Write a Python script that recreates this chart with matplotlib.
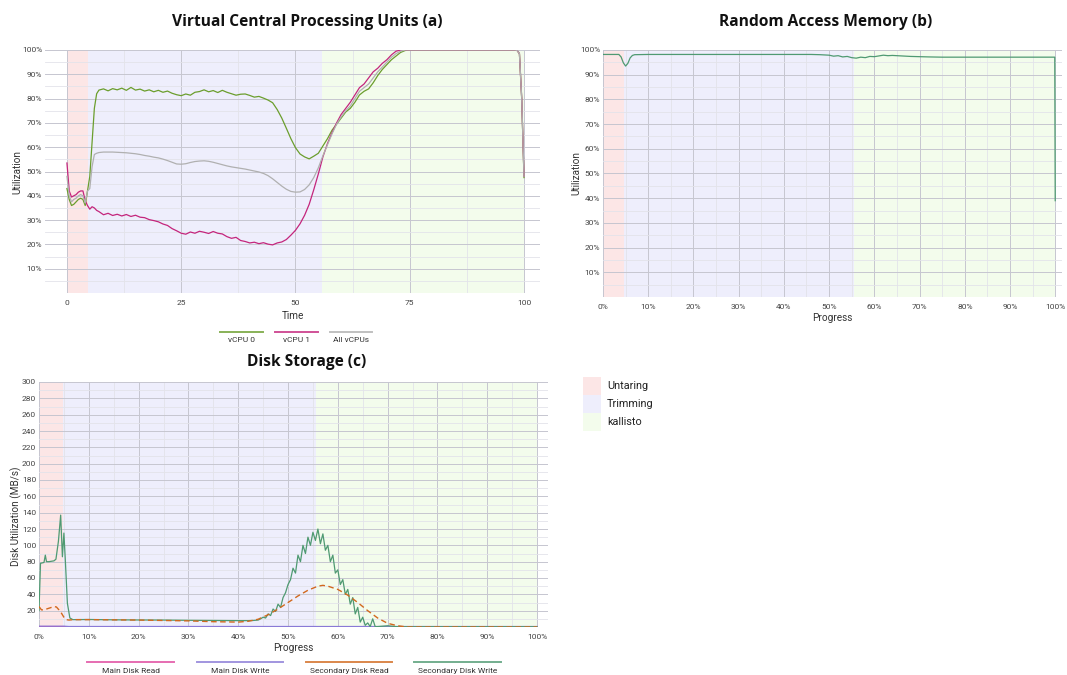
import matplotlib.pyplot as plt
from matplotlib.lines import Line2D
from matplotlib.patches import Rectangle
from matplotlib.ticker import FixedLocator, FuncFormatter

plt.rcParams['font.family'] = ['Roboto', 'DejaVu Sans']

# %% data
phase_names = ['Untaring', 'Trimming', 'kallisto']
phase_colors = ['#fce6e6', '#eeeefc', '#f3fcec']
cpu_phase_edges = [0, 4.6, 55.7, 100]
ram_phase_edges = [0, 4.6, 55.6, 100]
disk_phase_edges = [0, 4.8, 55.7, 100]

cpu_time = [0, 0.5, 1, 1.5, 2, 2.5, 3, 3.5, 4, 4.5, 5, 5.5, 6, 6.5,
            7, 8, 9, 10, 11, 12, 13, 14, 15, 16, 17, 18, 19, 20,
            21, 22, 23, 24, 25, 26, 27, 28, 29, 30, 31, 32, 33, 34, 35,
            36, 37, 38, 39, 40, 41, 42, 43, 44, 45, 46, 47, 48, 49, 50,
            51, 52, 53, 54, 55, 56, 57, 58, 59, 60, 61, 62, 63, 64, 65,
            66, 67, 68, 69, 70, 71, 72, 73, 74, 75,
            80, 85, 90, 95, 98, 98.5, 99, 99.5, 100]
vcpu0 = [43, 38.5, 36, 36.5, 37.5, 38.5, 39, 38.5, 36, 42, 48, 62, 76, 82,
         83.5, 84.0, 83.2, 84.1, 83.6, 84.3, 83.4, 84.6, 83.5, 83.9, 83.1, 83.6, 82.8, 83.4,
         82.6, 83.1, 82.2, 81.6, 81.2, 81.9, 81.4, 82.6, 82.9, 83.6, 82.8, 83.3, 82.5, 83.4, 82.6,
         82.0, 81.4, 81.8, 81.9, 81.3, 80.6, 80.9, 80.2, 79.4, 78.3, 75.5, 72.0, 67.8, 63.5, 59.8,
         57.2, 56.0, 55.2, 56.3, 57.5, 60.5, 63.5, 67.0, 69.5, 72.0, 74.5, 76.0, 78.5, 81.5, 83.0,
         84.0, 86.5, 89.5, 92.0, 94.0, 96.0, 97.5, 99.0, 99.8, 100,
         100, 100, 100, 100, 100, 99.8, 98.5, 80, 47.5]
vcpu1 = [53.5, 42, 39.5, 40, 40.5, 41.5, 42, 42, 38, 36, 34.5, 35.5, 35, 34,
         33.5, 32.2, 32.8, 31.9, 32.4, 31.7, 32.3, 31.5, 32.0, 31.2, 31.0, 30.2, 29.8, 29.3,
         28.4, 27.8, 26.5, 25.6, 24.6, 24.2, 25.1, 24.6, 25.4, 25.0, 24.5, 25.3, 24.6, 24.3, 23.2,
         22.5, 22.9, 21.6, 21.2, 20.6, 20.9, 20.3, 20.7, 20.1, 19.8, 20.6, 21.0, 22.0, 23.8, 25.8,
         28.5, 32.0, 36.5, 42.5, 49.0, 56.0, 61.5, 66.0, 70.0, 73.5, 76.0, 78.5, 81.5, 84.5, 86.0,
         88.5, 91.0, 92.5, 94.5, 96.0, 98.0, 99.5, 100, 100, 100,
         100, 100, 100, 100, 100, 99.8, 98.5, 80, 48]
all_vcpus = [48, 40, 37.5, 38.5, 39, 40, 40.5, 40, 37, 42, 43, 52, 57, 57.5,
             57.8, 58.0, 58.0, 58.0, 57.9, 57.8, 57.7, 57.5, 57.3, 57.0, 56.6, 56.3, 55.9, 55.6,
             55.1, 54.5, 53.8, 53.1, 53.0, 53.2, 53.7, 54.1, 54.3, 54.4, 54.2, 53.8, 53.3, 52.8, 52.3,
             51.9, 51.6, 51.3, 51.0, 50.6, 50.2, 49.8, 49.2, 48.3, 47.0, 45.5, 44.0, 42.7, 41.8, 41.5,
             41.6, 42.6, 44.5, 47.5, 51.5, 56.5, 61.0, 65.5, 69.5, 72.5, 75.0, 77.0, 80.0, 83.0, 84.5,
             86.0, 88.5, 91.0, 93.0, 95.0, 97.0, 98.5, 99.5, 100, 100,
             100, 100, 100, 100, 100, 99.8, 98.5, 80, 48]

ram_progress = [0, 3.5, 4.0, 4.5, 5.0, 5.5, 6.0, 6.5, 7.0, 10, 20, 30, 40, 46, 48,
                50, 51, 52, 53, 54, 55, 56, 57, 58, 59, 60, 61, 62, 63, 64, 66,
                68, 70, 72, 75, 80, 90, 99.9, 100]
ram_util = [98.2, 98.2, 97.2, 94.8, 93.5, 94.6, 96.8, 97.8, 98.1, 98.2, 98.2, 98.2, 98.2, 98.2, 98.1,
            97.9, 97.5, 97.7, 97.2, 97.4, 96.9, 96.7, 97.1, 96.9, 97.4, 97.3, 97.6, 97.9, 97.7, 97.8, 97.6,
            97.4, 97.3, 97.2, 97.1, 97.1, 97.1, 97.1, 39.0]

main_read_progress = [0, 5, 6, 100]
main_read = [0.5, 0.5, 0, 0]
main_write_progress = [0, 5, 6, 100]
main_write = [1.0, 1.0, 0.6, 0.6]

sec_read_progress = [0, 0.5, 1, 2, 3, 3.5, 4, 4.5, 5, 5.5, 6, 7, 10, 20, 30, 35, 40, 42, 44,
                     46, 48, 49.5, 52, 54, 56, 57, 58, 60, 62, 64, 66, 68, 70, 72, 74, 80, 100]
sec_read = [25, 21, 21, 23, 25, 24.5, 21, 17, 12, 9, 8.5, 9, 9, 8.5, 7.5, 6.5, 6, 7, 9.5,
            15, 22, 28, 38, 45, 50, 51, 50, 46, 39, 30, 20, 11, 4.5, 1.5, 0, 0, 0]

sec_write_progress = [0, 0.3, 1.0, 1.27, 1.5, 2.0, 3.0, 3.4, 3.9, 4.35, 4.7, 5.0, 5.3, 5.7,
                      6.2, 6.8, 10, 15, 20, 25, 30, 35, 40, 42, 43,
                      44, 44.5, 45, 45.5, 46, 46.5, 47, 47.5, 48, 48.5,
                      49, 49.5, 50, 50.5, 51, 51.5, 52, 52.5, 53, 53.5,
                      54, 54.5, 55, 55.5, 56, 56.5, 57, 57.5, 58, 58.5,
                      59, 59.5, 60, 60.5, 61, 61.5, 62, 62.5, 63, 63.5,
                      64, 64.5, 65, 65.5, 66, 66.5, 67, 67.5, 68,
                      70, 72, 80, 100]
sec_write = [20, 78, 79, 88, 80, 80, 81, 83, 105, 137, 86, 115, 80, 29,
             11, 9, 9.2, 8.8, 8.6, 8.5, 8.2, 8.0, 7.8, 7.8, 8.0,
             8.5, 10, 12, 11, 16, 14, 22, 19, 28, 24,
             36, 42, 52, 58, 72, 66, 88, 80, 100, 90,
             110, 100, 116, 106, 120, 102, 114, 94, 100, 80,
             88, 66, 70, 52, 58, 40, 46, 28, 36, 16,
             24, 6, 12, 2, 5, 0.5, 10, 0.5, 0.5,
             1.5, 0.3, 0.3, 0.3]

cpu_labels = ['vCPU 0', 'vCPU 1', 'All vCPUs']
cpu_colors = ['#6b9e2d', '#c4257c', '#b0b0b0']
disk_labels = ['Main Disk Read', 'Main Disk Write', 'Secondary Disk Read', 'Secondary Disk Write']
disk_colors = ['#e0489e', '#8a7ad6', '#d2691e', '#4f9a72']

# %% figure
W, H = 1067, 675
fig = plt.figure(figsize=(W / 100, H / 100), dpi=100)


def px_box(l, t, r, b):
    return [l / W, 1 - b / H, (r - l) / W, (b - t) / H]


pct = FuncFormatter(lambda v, p: f'{v:.0f}%')


def style(ax, edges):
    for s in ax.spines.values():
        s.set_visible(False)
    ax.tick_params(which='both', length=0, labelsize=6, labelcolor='#444444')
    ax.tick_params(axis='y', pad=2)
    ax.tick_params(axis='x', pad=5)
    ax.grid(which='major', color='#c6c6d0', lw=0.7)
    ax.grid(which='minor', color='#e3e3ea', lw=0.6)
    ax.set_axisbelow(True)
    for i in range(3):
        ax.axvspan(edges[i], edges[i + 1], color=phase_colors[i], lw=0, zorder=0.2)


def title(x, y, s):
    fig.text(x / W, 1 - y / H, s, ha='center', va='center', fontsize=11.2,
             fontweight='bold', color='#111111', family=['Open Sans', 'DejaVu Sans'])


def bottom_legend(labels, colors, spans, y_line, y_text):
    for lab, col, (x0, x1) in zip(labels, colors, spans):
        fig.add_artist(Line2D([x0 / W, x1 / W], [1 - y_line / H] * 2, color=col,
                              lw=1.4, alpha=0.8, transform=fig.transFigure))
        fig.text((x0 + x1) / 2 / W, 1 - y_text / H, lab, ha='center', va='center',
                 fontsize=6, color='#333333')


# (a) vCPU
ax1 = fig.add_axes(px_box(45, 50, 540, 293))
style(ax1, cpu_phase_edges)
ax1.plot(cpu_time, vcpu0, color=cpu_colors[0], lw=0.9, zorder=3)
ax1.plot(cpu_time, vcpu1, color=cpu_colors[1], lw=0.9, zorder=3)
ax1.plot(cpu_time, all_vcpus, color=cpu_colors[2], lw=0.9, zorder=3)
ax1.set_xlim(-4.8, 103.5)
ax1.set_ylim(0, 100)
ax1.xaxis.set_major_locator(FixedLocator([0, 25, 50, 75, 100]))
ax1.xaxis.set_minor_locator(FixedLocator([12.5, 37.5, 62.5, 87.5]))
ax1.yaxis.set_major_locator(FixedLocator(range(10, 101, 10)))
ax1.yaxis.set_minor_locator(FixedLocator(range(5, 100, 10)))
ax1.yaxis.set_major_formatter(pct)
ax1.set_xlabel('Time', fontsize=7.2, color='#333333')
ax1.set_ylabel('Utilization', fontsize=7.2, color='#333333')
ax1.xaxis.set_label_coords(0.5, -0.074)
ax1.yaxis.set_label_coords(-0.046, 0.5)
title(307, 22, 'Virtual Central Processing Units (a)')
bottom_legend(cpu_labels, cpu_colors, [(220, 263), (275, 318), (330, 372)], 332, 340)

# (b) RAM
ax2 = fig.add_axes(px_box(603, 50, 1062, 297))
style(ax2, ram_phase_edges)
ax2.plot(ram_progress, ram_util, color='#4f9a72', lw=0.9, zorder=3)
ax2.set_xlim(0, 101.5)
ax2.set_ylim(0, 100)
ax2.xaxis.set_major_locator(FixedLocator(range(0, 101, 10)))
ax2.xaxis.set_minor_locator(FixedLocator(range(5, 100, 10)))
ax2.yaxis.set_major_locator(FixedLocator(range(10, 101, 10)))
ax2.yaxis.set_minor_locator(FixedLocator(range(5, 100, 10)))
ax2.xaxis.set_major_formatter(pct)
ax2.yaxis.set_major_formatter(pct)
ax2.set_xlabel('Progress', fontsize=7.2, color='#333333')
ax2.set_ylabel('Utilization', fontsize=7.2, color='#333333')
ax2.xaxis.set_label_coords(0.5, -0.065)
ax2.yaxis.set_label_coords(-0.0475, 0.5)
title(826, 22, 'Random Access Memory (b)')

# (c) Disk
ax3 = fig.add_axes(px_box(39, 382, 548, 627))
style(ax3, disk_phase_edges)
ax3.plot(main_read_progress, main_read, color=disk_colors[0], lw=0.9, zorder=3)
ax3.plot(main_write_progress, main_write, color=disk_colors[1], lw=0.9, zorder=3)
ax3.plot(sec_write_progress, sec_write, color=disk_colors[3], lw=0.9, zorder=3)
ax3.plot(sec_read_progress, sec_read, color=disk_colors[2], lw=1.0, ls=(0, (4, 2.5)), zorder=4)
ax3.set_xlim(0, 102.2)
ax3.set_ylim(0, 300)
ax3.xaxis.set_major_locator(FixedLocator(range(0, 101, 10)))
ax3.xaxis.set_minor_locator(FixedLocator(range(5, 100, 10)))
ax3.yaxis.set_major_locator(FixedLocator(range(20, 301, 20)))
ax3.yaxis.set_minor_locator(FixedLocator(range(10, 300, 20)))
ax3.xaxis.set_major_formatter(pct)
ax3.set_xlabel('Progress', fontsize=7.2, color='#333333')
ax3.set_ylabel('Disk Utilization (MB/s)', fontsize=7.2, color='#333333')
ax3.xaxis.set_label_coords(0.5, -0.065)
ax3.yaxis.set_label_coords(-0.033, 0.453)
title(307, 362, 'Disk Storage (c)')
bottom_legend(disk_labels, disk_colors,
              [(87, 174), (197, 283), (306, 392), (414, 501)], 662, 671)

# phase legend
for i, name in enumerate(phase_names):
    top = 377 + 18 * i
    fig.add_artist(Rectangle((583 / W, 1 - (top + 18) / H), 18 / W, 18 / H,
                             color=phase_colors[i], lw=0, transform=fig.transFigure))
    fig.text(607 / W, 1 - (top + 9) / H, name, ha='left', va='center',
             fontsize=7.8, color='#222222')

fig.savefig('out.png', dpi=100, facecolor='white')
